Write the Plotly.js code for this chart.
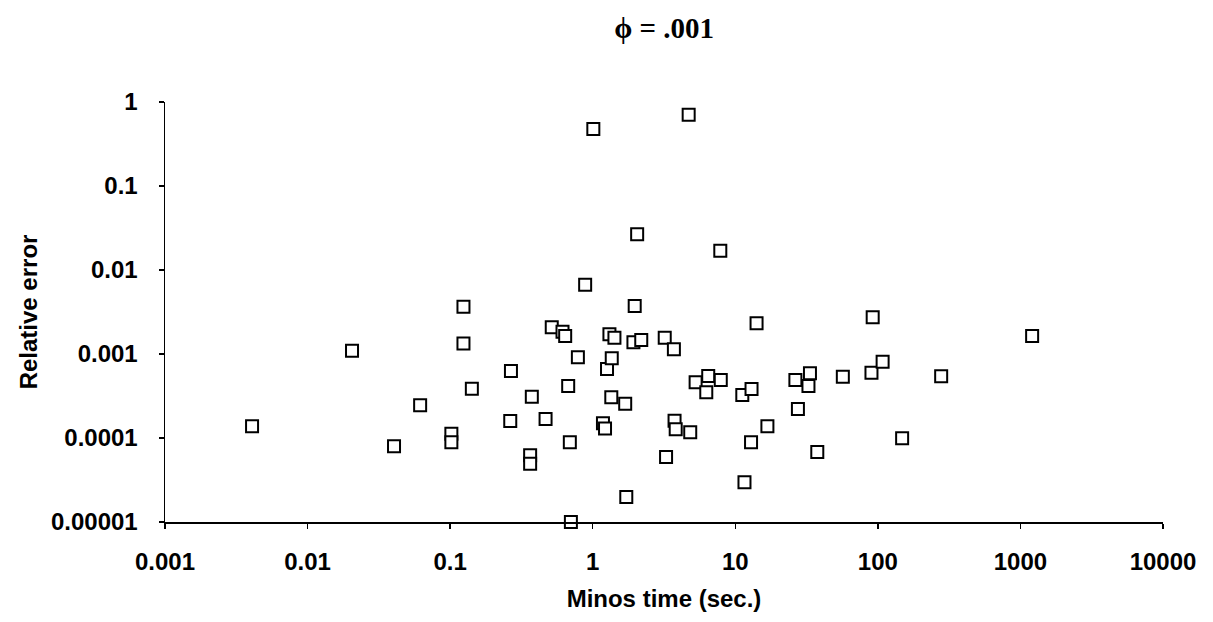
<!DOCTYPE html>
<html>
<head>
<meta charset="utf-8">
<script src="https://cdn.plot.ly/plotly-3.0.1.min.js"></script>
<style>html,body{margin:0;padding:0;background:#fff;}#chart{width:1213px;height:622px;}</style>
</head>
<body>
<div id="chart"></div>
<script>
// Minos time (sec.)
const minosTime = [
  0.00408, 0.0205, 0.0404, 0.0616, 0.102, 0.102, 0.124, 0.124, 0.142, 0.267,
  0.264, 0.364, 0.364, 0.374, 0.467, 0.516, 0.614, 0.641, 0.673, 0.691,
  0.703, 0.787, 0.885, 1.01, 1.18, 1.22, 1.26, 1.31, 1.35, 1.36,
  1.42, 1.69, 1.72, 1.93, 1.97, 2.05, 2.19, 3.20, 3.27, 3.71,
  3.75, 3.82, 4.71, 4.83, 5.27, 6.26, 6.46, 7.85, 7.91, 11.2,
  11.6, 12.9, 13.0, 14.1, 16.8, 26.4, 27.5, 32.6, 33.4, 37.6,
  56.8, 90.2, 92.0, 108, 148, 278, 1208
];
// Relative error
const relError = [
  1.38e-4, 1.09e-3, 7.96e-5, 2.45e-4, 1.12e-4, 8.89e-5, 3.66e-3, 1.33e-3, 3.86e-4, 6.28e-4,
  1.59e-4, 6.22e-5, 4.94e-5, 3.10e-4, 1.68e-4, 2.08e-3, 1.84e-3, 1.64e-3, 4.16e-4, 8.89e-5,
  1.0e-5, 9.14e-4, 6.68e-3, 0.477, 1.50e-4, 1.30e-4, 6.63e-4, 1.72e-3, 3.05e-4, 8.89e-4,
  1.56e-3, 2.56e-4, 1.99e-5, 1.38e-3, 3.73e-3, 0.0266, 1.47e-3, 1.56e-3, 5.94e-5, 1.14e-3,
  1.61e-4, 1.27e-4, 0.706, 1.17e-4, 4.60e-4, 3.50e-4, 5.47e-4, 0.0170, 4.90e-4, 3.25e-4,
  2.97e-5, 8.89e-5, 3.83e-4, 2.32e-3, 1.38e-4, 4.90e-4, 2.21e-4, 4.16e-4, 5.89e-4, 6.81e-5,
  5.37e-4, 5.99e-4, 2.73e-3, 8.10e-4, 9.91e-5, 5.43e-4, 1.64e-3
];
const xTickVals = [0.001, 0.01, 0.1, 1, 10, 100, 1000, 10000];
const xTickText = ["0.001", "0.01", "0.1", "1", "10", "100", "1000", "10000"];
const yTickVals = [0.00001, 0.0001, 0.001, 0.01, 0.1, 1];
const yTickText = ["0.00001", "0.0001", "0.001", "0.01", "0.1", "1"];

const sansBold = "Liberation Sans, Arial, sans-serif";

const trace = {
  x: minosTime,
  y: relError,
  type: "scatter",
  mode: "markers",
  cliponaxis: false,
  marker: {symbol: "square", size: 12, color: "#ffffff", line: {color: "#000000", width: 2}},
  hoverinfo: "x+y"
};

const layout = {
  width: 1213,
  height: 622,
  margin: {l: 164.5, r: 49.5, t: 102, b: 100},
  paper_bgcolor: "#ffffff",
  plot_bgcolor: "#ffffff",
  showlegend: false,
  title: {
    text: "<b>ϕ = .001</b>",
    font: {family: "Liberation Serif, Times New Roman, serif", size: 29, color: "#000"},
    x: 0.5475, xanchor: "center", y: 0.955, yanchor: "middle"
  },
  xaxis: {
    type: "log",
    range: [-3, 4],
    tickmode: "array",
    tickvals: xTickVals,
    ticktext: xTickText,
    ticks: "outside",
    ticklen: 5,
    tickwidth: 1.5,
    tickcolor: "#000",
    ticklabelstandoff: 12,
    showgrid: false,
    zeroline: false,
    showline: true,
    linecolor: "#000",
    linewidth: 2,
    tickfont: {family: sansBold, size: 24, color: "#000", weight: "bold"},
    title: {text: "<b>Minos time (sec.)</b>", font: {family: sansBold, size: 24, color: "#000"}, standoff: 16}
  },
  yaxis: {
    type: "log",
    range: [-5, 0],
    tickmode: "array",
    tickvals: yTickVals,
    ticktext: yTickText,
    ticks: "outside",
    ticklen: 5,
    tickwidth: 1.5,
    tickcolor: "#000",
    ticklabelstandoff: 16,
    showgrid: false,
    zeroline: false,
    showline: true,
    linecolor: "#000",
    linewidth: 1.5,
    tickfont: {family: sansBold, size: 24, color: "#000", weight: "bold"},
    title: {text: "<b>Relative error</b>", font: {family: sansBold, size: 24, color: "#000"}, standoff: 6}
  }
};

Plotly.newPlot("chart", [trace], layout, {displayModeBar: false, staticPlot: true});
</script>
</body>
</html>
